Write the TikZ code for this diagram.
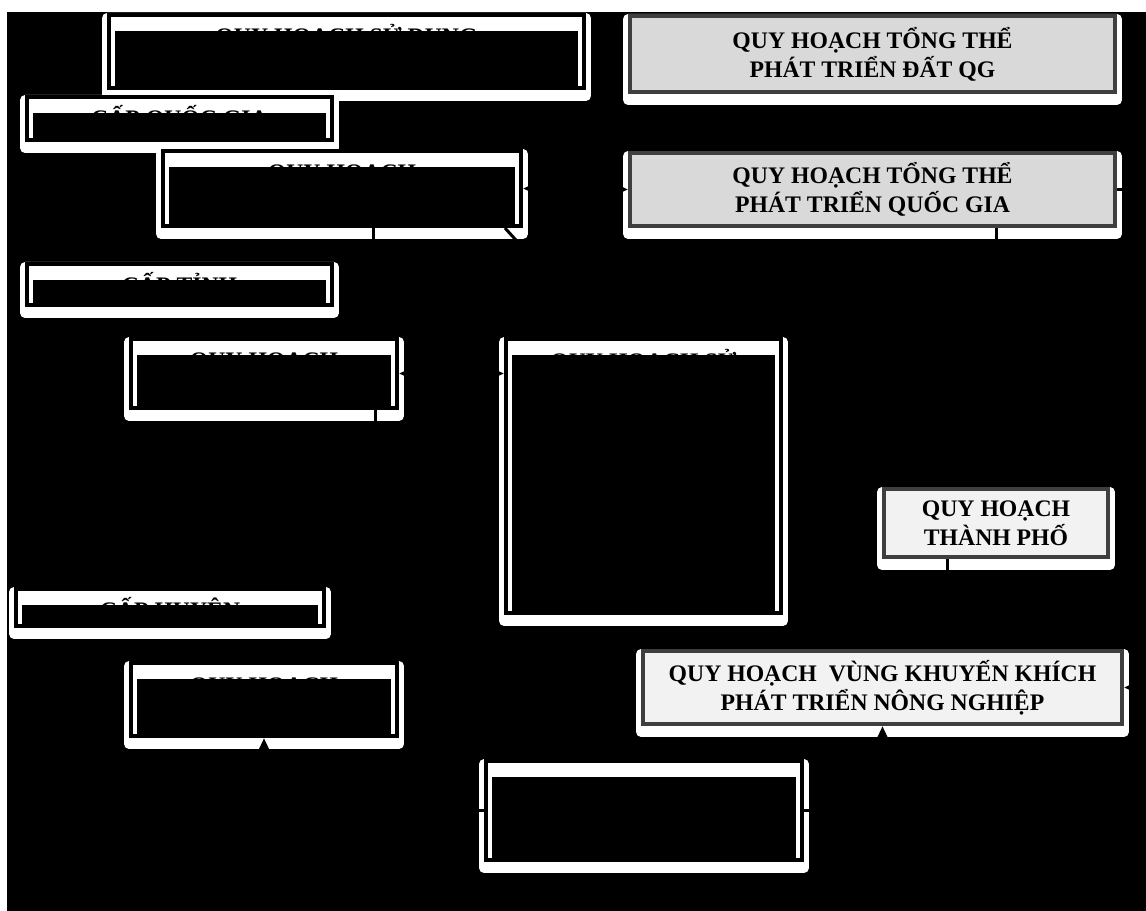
\documentclass[tikz,border=0pt]{standalone}
\usepackage{fontspec}
\setmainfont{Liberation Serif}
\usetikzlibrary{arrows.meta, positioning, calc, backgrounds}
\definecolor{frameg}{HTML}{3F3F3F}
\definecolor{fillg}{HTML}{D9D9D9}
\definecolor{filll}{HTML}{F2F2F2}

\begin{document}
\begin{tikzpicture}[x=0.02cm, y=-0.02cm,
  hidbox/.style={draw=black, line width=0.08cm, fill=white, inner sep=0pt,
    path picture={\fill[black] ($(path picture bounding box.north west)+(6,16)$)
      rectangle ($(path picture bounding box.south east)+(-6,0)$);}},
  hidtext/.style={font=\fontsize{13.5}{16}\selectfont\bfseries, text=black,
    anchor=base, label distance=0pt, yshift=-0.64cm},
  gbox/.style={draw=frameg, line width=0.08cm, fill=fillg, inner sep=0pt,
    align=center, font=\fontsize{13.5}{16.5}\selectfont\bfseries},
  lbox/.style={gbox, fill=filll},
  arr/.style={black, line width=0.06cm},
  >={Triangle[length=0.24cm, width=0.2cm]}]

  \useasboundingbox (0,0) rectangle (1146,911);

  % levels and plans
  \node[hidbox, minimum width=9.5cm, minimum height=1.46cm,
        label={[hidtext, name=At]north:QUY HOẠCH SỬ DỤNG}]   (A)  at (346.5,51.5) {};
  \node[hidbox, minimum width=6.1cm, minimum height=0.86cm,
        label={[hidtext, name=Bt]north:CẤP QUỐC GIA}]        (B)  at (179.5,118.5) {};
  \node[hidbox, minimum width=7.16cm, minimum height=1.5cm,
        label={[hidtext, name=Ct]north:QUY HOẠCH}]           (C)  at (342,188.5) {};
  \node[hidbox, minimum width=6.1cm, minimum height=0.82cm,
        label={[hidtext, name=Dt]north:CẤP TỈNH}]            (D)  at (179.5,284.5) {};
  \node[hidbox, minimum width=5.32cm, minimum height=1.38cm,
        label={[hidtext, name=Et]north:QUY HOẠCH}]           (E)  at (264,373.5) {};
  \node[hidbox, minimum width=5.5cm, minimum height=5.48cm,
        label={[hidtext, name=Ft]north:QUY HOẠCH SỬ}]        (F)  at (643.5,476) {};
  \node[hidbox, minimum width=6.16cm, minimum height=0.74cm,
        label={[hidtext, name=Ht]north:CẤP HUYỆN}]           (H)  at (170,607.5) {};
  \node[hidbox, minimum width=5.32cm, minimum height=1.46cm,
        label={[hidtext, name=It]north:QUY HOẠCH}]           (I)  at (264,699.5) {};
  \node[hidbox, minimum width=6.32cm, minimum height=1.98cm] (J)  at (644,810.5) {};

  \node[gbox, minimum width=9.7cm, minimum height=1.52cm]  (G1) at (872.5,54)
       {QUY HOẠCH TỔNG THỂ\\PHÁT TRIỂN ĐẤT QG};
  \node[gbox, minimum width=9.7cm, minimum height=1.46cm]  (G2) at (872.5,189.5)
       {QUY HOẠCH TỔNG THỂ\\PHÁT TRIỂN QUỐC GIA};
  \node[lbox, minimum width=4.48cm, minimum height=1.36cm] (G3) at (996,523)
       {QUY HOẠCH\\THÀNH PHỐ};
  \node[lbox, minimum width=9.58cm, minimum height=1.46cm] (G4) at (882.5,687.5)
       {QUY HOẠCH\ \ VÙNG KHUYẾN KHÍCH\\PHÁT TRIỂN NÔNG NGHIỆP};

  \coordinate (cx) at (373,0);
  \coordinate (ex) at (375,0);
  \coordinate (gx) at (947,0);

  % connectors
  \draw[arr, <->] (C.east) -- (G2.west);
  \draw[arr, <->] (E.east) -- (E.east -| F.west);
  \draw[arr, ->] (C.south -| cx) -- (E.north -| cx);
  \draw[arr, ->] (E.south -| ex) -- (I.north -| ex);
  \draw[arr, ->] ($(C.south east)+(-18,0)$) -- ($(F.north west)+(100,0)$);
  \draw[arr, ->] (G2.south -| G3.north) -- (G3.north);
  \draw[arr, ->] (G2.east) -- ++(20,0) |- (G4.east);
  \draw[arr, ->] (G3.south -| gx) -- (G4.north -| gx);
  \draw[arr, ->] (J.east) -| (G4.south);
  \draw[arr, ->] (J.west) -| (I.south);

  \begin{scope}[on background layer]
    \fill[white] (0,0) rectangle (1146,911);
    \fill[black] (7,12) rectangle (1146,911);
    \foreach \n in {A,B,C,D,E,F,H,I,J,G1,G2,G3,G4}
      \fill[white, rounded corners=0.1cm] ($(\n.north west)+(-5,0)$)
        rectangle ($(\n.south east)+(5,11)$);
  \end{scope}
\end{tikzpicture}
\end{document}
